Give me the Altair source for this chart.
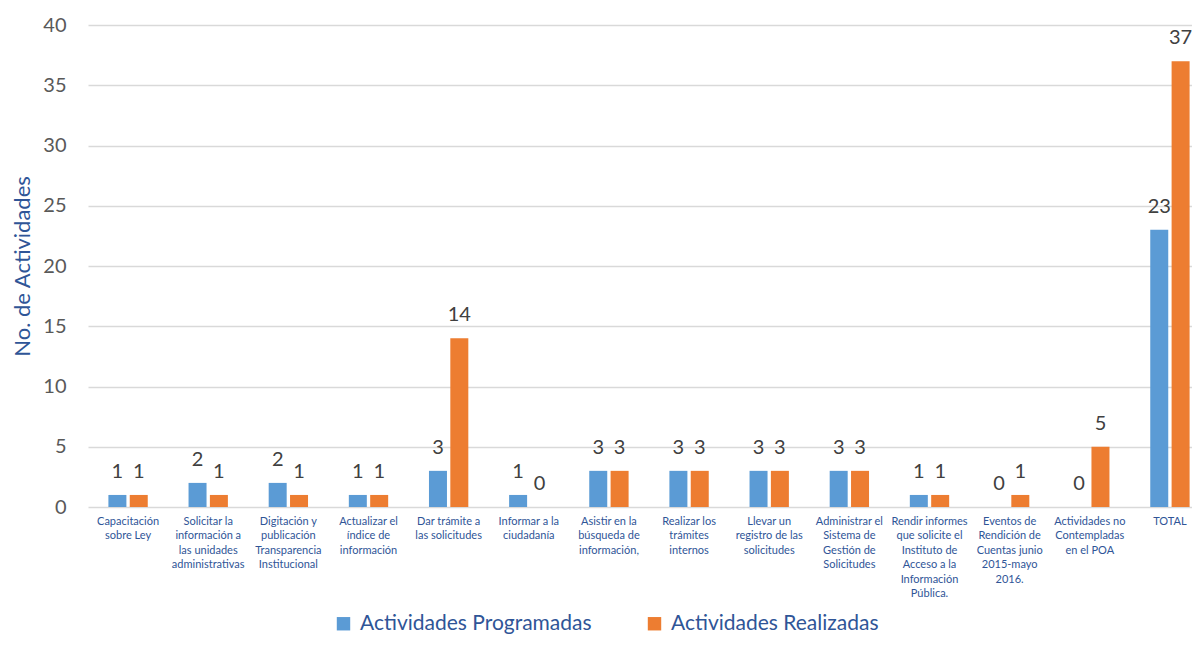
import altair as alt
import pandas as pd

categories = [
    "Capacitación|sobre Ley",
    "Solicitar la|información a|las unidades|administrativas",
    "Digitación y|publicación|Transparencia|Institucional",
    "Actualizar el|índice de|información",
    "Dar trámite a|las solicitudes",
    "Informar a la|ciudadanía",
    "Asistir en la|búsqueda de|información,",
    "Realizar los|trámites|internos",
    "Llevar un|registro de las|solicitudes",
    "Administrar el|Sistema de|Gestión de|Solicitudes",
    "Rendir informes|que solicite el|Instituto de|Acceso a la|Información|Pública.",
    "Eventos de|Rendición de|Cuentas junio|2015-mayo|2016.",
    "Actividades no|Contempladas|en el POA",
    "TOTAL",
]
programadas = [1, 2, 2, 1, 3, 1, 3, 3, 3, 3, 1, 0, 0, 23]
realizadas = [1, 1, 1, 1, 14, 0, 3, 3, 3, 3, 1, 1, 5, 37]
series = ["Actividades Programadas", "Actividades Realizadas"]
colors = ["#5B9BD5", "#ED7D31"]

rows = []
for c, p, r in zip(categories, programadas, realizadas):
    rows.append({"cat": c, "serie": series[0], "valor": p})
    rows.append({"cat": c, "serie": series[1], "valor": r})
df = pd.DataFrame(rows)

FONT = "Lato"

x = alt.X(
    "cat:N",
    sort=categories,
    scale=alt.Scale(range=[0, 1122], paddingInner=0.525, paddingOuter=0.2625),
    axis=alt.Axis(
        title=None,
        labelExpr="split(datum.label, '|')",
        labelAngle=0,
        labelFontSize=11,
        labelColor="#2F5597",
        labelFont=FONT,
        labelLineHeight=14.5,
        labelPadding=8,
        ticks=False,
        domain=False,
        labelBaseline="top",
    ),
)
xo = alt.XOffset(
    "serie:N", sort=series, scale=alt.Scale(paddingInner=0.217, paddingOuter=0)
)
y = alt.Y(
    "valor:Q",
    scale=alt.Scale(domain=[0, 40]),
    axis=alt.Axis(
        title="No. de Actividades",
        titleFontSize=22,
        titleFontWeight="normal",
        titleColor="#2F5597",
        titleFont=FONT,
        titlePadding=8,
        values=[0, 5, 10, 15, 20, 25, 30, 35, 40],
        labelFontSize=20,
        labelColor="#595959",
        labelFont=FONT,
        labelPadding=22,
        ticks=False,
        domain=False,
        gridColor="#D9D9D9",
        gridWidth=1.5,
    ),
)
color = alt.Color(
    "serie:N",
    sort=series,
    scale=alt.Scale(domain=series, range=colors),
    legend=alt.Legend(
        title=None,
        orient="none",
        legendX=245,
        legendY=588,
        direction="horizontal",
        symbolType="square",
        symbolSize=180,
        symbolStrokeWidth=0,
        labelFontSize=21,
        labelColor="#2F5597",
        labelFont=FONT,
        labelLimit=500,
        columnPadding=52,
        labelOffset=6,
    ),
)

bars = alt.Chart(df).mark_bar(size=18).encode(x=x, xOffset=xo, y=y, color=color)
labels = alt.Chart(df).mark_text(
    baseline="alphabetic", dy=-17, fontSize=20, color="#404040", font=FONT
).encode(x=x, xOffset=xo, y=y, text="valor:Q")

chart = (
    (bars + labels)
    .properties(
        width=1104,
        height=482,
        autosize=alt.AutoSizeParams(type="none"),
        padding={"left": 80, "top": 17, "right": 0, "bottom": 130},
    )
    .configure_view(stroke=None)
)

chart.save("out.html", embed_options={"renderer": "svg", "actions": False})
